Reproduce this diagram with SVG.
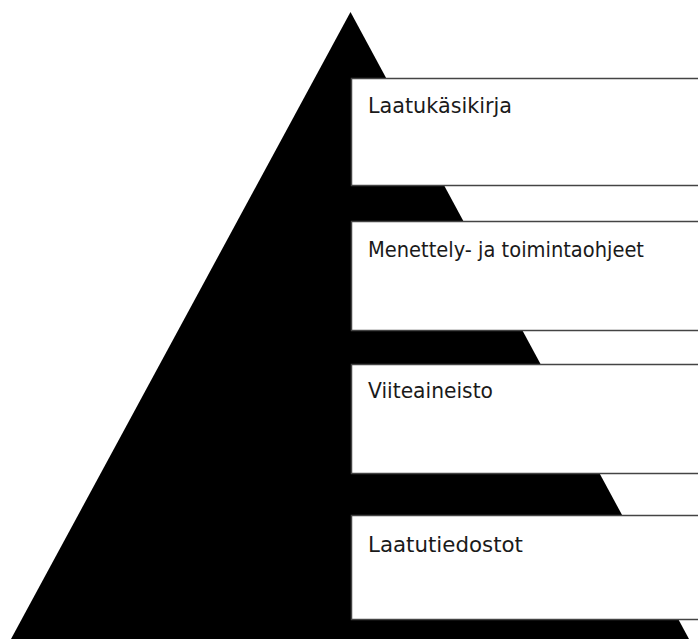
<svg xmlns="http://www.w3.org/2000/svg" width="698" height="639" viewBox="0 0 698 639">
<style>
.box{fill:#fff;stroke:#444;stroke-width:1.5}
.lbl{font-family:"DejaVu Sans","Verdana",sans-serif;font-size:20.5px;fill:#1a1a1a}
</style>
<rect x="0" y="0" width="698" height="639" fill="#fff"/>
<g id="pyramid"><polygon points="350.5,12 689,639 11,639" fill="#000"/></g>
<g id="connectors"></g>
<g id="n1"><rect class="box" x="351.5" y="78.5" width="360" height="107"/><text class="lbl" x="368" y="112.5" textLength="144" lengthAdjust="spacingAndGlyphs">Laatukäsikirja</text></g>
<g id="n2"><rect class="box" x="351.5" y="221.5" width="360" height="109"/><text class="lbl" x="368" y="256.5" textLength="276" lengthAdjust="spacingAndGlyphs">Menettely- ja toimintaohjeet</text></g>
<g id="n3"><rect class="box" x="351.5" y="364.5" width="360" height="109"/><text class="lbl" x="368" y="397.5" textLength="125" lengthAdjust="spacingAndGlyphs">Viiteaineisto</text></g>
<g id="n4"><rect class="box" x="351.5" y="515.5" width="360" height="104"/><text class="lbl" x="368" y="552" textLength="155" lengthAdjust="spacingAndGlyphs">Laatutiedostot</text></g>
</svg>
